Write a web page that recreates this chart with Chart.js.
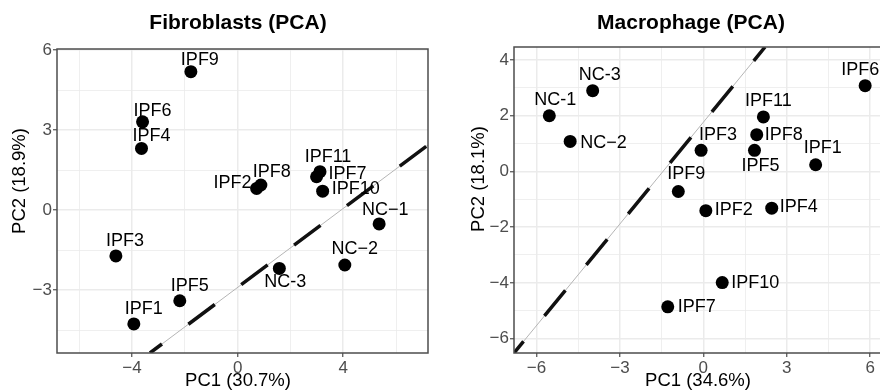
<!DOCTYPE html>
<html>
<head>
<meta charset="utf-8">
<script src="https://cdn.jsdelivr.net/npm/chart.js@4.4.1/dist/chart.umd.min.js"></script>
<style>
  html, body { margin: 0; padding: 0; background: #fff; }
  body { width: 880px; height: 391px; overflow: hidden; position: relative; }
  canvas { position: absolute; top: 0; }
  #fibro { left: 0; }
  #macro { left: 440px; }
</style>
</head>
<body>
<canvas id="fibro" width="440" height="391"></canvas>
<canvas id="macro" width="458" height="391"></canvas>
<script>
// Fibroblasts PCA
const fibroNames = ['IPF1', 'IPF2', 'IPF3', 'IPF4', 'IPF5', 'IPF6', 'IPF7', 'IPF8', 'IPF9', 'IPF10', 'IPF11', 'NC\u22121', 'NC\u22122', 'NC-3'];
const fibroPC1 = [-3.93, 0.72, -4.61, -3.64, -2.19, -3.6, 2.99, 0.88, -1.77, 3.22, 3.12, 5.36, 4.06, 1.58];
const fibroPC2 = [-4.27, 0.81, -1.72, 2.31, -3.4, 3.31, 1.25, 0.94, 5.19, 0.71, 1.44, -0.52, -2.06, -2.19];
const fibroLineX = [-3.32, 7.21];
const fibroLineY = [-5.36, 2.44];
const fibroRangeX = [-6.84, 7.21];
const fibroRangeY = [-5.36, 6.04];

// Macrophage PCA
const macroNames = ['IPF1', 'IPF2', 'IPF3', 'IPF4', 'IPF5', 'IPF6', 'IPF7', 'IPF8', 'IPF9', 'IPF10', 'IPF11', 'NC-1', 'NC\u22122', 'NC-3'];
const macroPC1 = [4.04, 0.09, -0.08, 2.46, 1.84, 5.82, -1.28, 1.92, -0.9, 0.68, 2.16, -5.54, -4.79, -3.98];
const macroPC2 = [0.24, -1.41, 0.76, -1.32, 0.76, 3.08, -4.86, 1.32, -0.72, -3.99, 1.96, 2.0, 1.08, 2.9];
const macroLineX = [-6.81, 2.22];
const macroLineY = [-6.52, 4.47];
const macroRangeX = [-6.81, 6.57];
const macroRangeY = [-6.52, 4.47];

// where each point label sits: [align, dx, dy]
const fibroLabelPos = {
  'IPF9': ['c', 9, -12], 'IPF6': ['c', 10, -11], 'IPF4': ['c', 10, -12],
  'IPF8': ['c', 11, -13], 'IPF2': ['r', -5, -5], 'IPF11': ['c', 8, -15],
  'IPF7': ['l', 12, -3], 'IPF10': ['l', 9, -2], 'NC\u22121': ['c', 6, -14],
  'IPF3': ['c', 9, -15], 'NC\u22122': ['c', 10, -16], 'NC-3': ['c', 6, 14],
  'IPF5': ['c', 10, -15], 'IPF1': ['c', 10, -15]
};
const macroLabelPos = {
  'IPF6': ['c', -5, -16], 'NC-3': ['c', 7, -16], 'NC-1': ['c', 6, -16],
  'IPF11': ['c', 5, -16], 'NC\u22122': ['l', 10, 2], 'IPF8': ['l', 8, 0],
  'IPF3': ['c', 17, -15], 'IPF5': ['c', 6, 16], 'IPF1': ['c', 7, -17],
  'IPF9': ['c', 8, -17], 'IPF2': ['l', 9, -1], 'IPF4': ['l', 8, -1],
  'IPF10': ['l', 9, 0], 'IPF7': ['l', 10, 0]
};

const FONT = "'Liberation Sans', Arial, sans-serif";

function isMajor(v, major) {
  const r = Math.round(v);
  return Math.abs(v - r) < 1e-6 && r % major === 0;
}

function axis(range, step, major, fitSize, isY) {
  return {
    type: 'linear',
    min: range[0],
    max: range[1],
    border: { display: false },
    grid: {
      color: '#ebebeb',
      lineWidth: (c) => isMajor(c.tick.value, major) ? 1.5 : 0.8,
      tickLength: 4,
      tickWidth: 1.2,
      tickColor: (c) => isMajor(c.tick.value, major) ? '#4d4d4d' : 'rgba(0,0,0,0)'
    },
    ticks: {
      stepSize: step,
      includeBounds: false,
      autoSkip: false,
      maxRotation: 0,
      padding: 1,
      color: '#4d4d4d',
      font: { family: FONT, size: 17 },
      callback: (v) => {
        if (!isMajor(v, major)) return '';
        const r = Math.round(v);
        return r < 0 ? '\u2212' + (-r) : String(r);
      }
    },
    afterFit: (s) => {
      if (isY) s.width = fitSize; else s.height = fitSize;
    }
  };
}

const panelDecor = {
  id: 'panelDecor',
  afterDatasetsDraw(chart, args, opts) {
    const ctx = chart.ctx;
    const meta = chart.getDatasetMeta(0);
    ctx.save();
    ctx.fillStyle = '#000';
    ctx.font = '18px ' + FONT;
    ctx.textBaseline = 'middle';
    meta.data.forEach((pt, i) => {
      const name = opts.names[i];
      const p = opts.labelPos[name] || ['c', 0, -15];
      ctx.textAlign = p[0] === 'l' ? 'left' : (p[0] === 'r' ? 'right' : 'center');
      ctx.fillText(name, pt.x + p[1], pt.y + p[2]);
    });
    ctx.restore();
  },
  afterDraw(chart, args, opts) {
    const ctx = chart.ctx;
    const a = chart.chartArea;
    ctx.save();
    ctx.strokeStyle = '#4d4d4d';
    ctx.lineWidth = 1.5;
    ctx.strokeRect(a.left, a.top, a.right - a.left, a.bottom - a.top);

    ctx.fillStyle = '#000';
    ctx.textAlign = 'center';
    ctx.textBaseline = 'middle';
    ctx.font = 'bold 21px ' + FONT;
    ctx.fillText(opts.title, opts.titleX, 23);

    ctx.font = '18.5px ' + FONT;
    ctx.fillText(opts.xTitle, opts.xTitleX, 381);

    ctx.translate(opts.yTitleX, opts.yTitleY);
    ctx.rotate(-Math.PI / 2);
    ctx.fillText(opts.yTitle, 0, 0);
    ctx.restore();
  }
};

function makeChart(id, cfg) {
  const points = cfg.pc1.map((x, i) => ({ x: x, y: cfg.pc2[i] }));
  const line = cfg.lineX.map((x, i) => ({ x: x, y: cfg.lineY[i] }));
  return new Chart(document.getElementById(id), {
    type: 'scatter',
    data: {
      datasets: [
        {
          data: points,
          backgroundColor: '#000',
          borderWidth: 0,
          pointRadius: 6.5,
          order: 0
        },
        {
          type: 'line',
          data: line,
          borderColor: '#111',
          borderWidth: 3.5,
          borderDash: [33, 33],
          borderDashOffset: 18,
          borderCapStyle: 'butt',
          pointRadius: 0,
          clip: 0,
          order: 1
        },
        {
          type: 'line',
          data: line,
          borderColor: '#b5b5b5',
          borderWidth: 1,
          pointRadius: 0,
          clip: 0,
          order: 2
        }
      ]
    },
    options: {
      responsive: false,
      animation: false,
      events: [],
      layout: { padding: { left: 0, right: 12, top: cfg.top, bottom: 0 } },
      scales: {
        x: axis(cfg.rangeX, cfg.stepX, cfg.majorX, 38, false),
        y: axis(cfg.rangeY, cfg.stepY, cfg.majorY, cfg.yWidth, true)
      },
      plugins: {
        legend: { display: false },
        tooltip: { enabled: false },
        panelDecor: {
          names: cfg.names,
          labelPos: cfg.labelPos,
          title: cfg.title,
          titleX: cfg.titleX,
          xTitle: cfg.xTitle,
          xTitleX: cfg.xTitleX,
          yTitle: cfg.yTitle,
          yTitleX: cfg.yTitleX,
          yTitleY: cfg.yTitleY
        }
      }
    },
    plugins: [panelDecor]
  });
}

makeChart('fibro', {
  names: fibroNames, pc1: fibroPC1, pc2: fibroPC2,
  lineX: fibroLineX, lineY: fibroLineY,
  rangeX: fibroRangeX, rangeY: fibroRangeY,
  stepX: 2, majorX: 4, stepY: 1.5, majorY: 3,
  top: 49, yWidth: 57,
  labelPos: fibroLabelPos,
  title: 'Fibroblasts (PCA)', titleX: 238,
  xTitle: 'PC1 (30.7%)', xTitleX: 238,
  yTitle: 'PC2 (18.9%)', yTitleX: 20, yTitleY: 181
});

makeChart('macro', {
  names: macroNames, pc1: macroPC1, pc2: macroPC2,
  lineX: macroLineX, lineY: macroLineY,
  rangeX: macroRangeX, rangeY: macroRangeY,
  stepX: 1.5, majorX: 3, stepY: 1, majorY: 2,
  top: 47, yWidth: 74,
  labelPos: macroLabelPos,
  title: 'Macrophage (PCA)', titleX: 251,
  xTitle: 'PC1 (34.6%)', xTitleX: 258,
  yTitle: 'PC2 (18.1%)', yTitleX: 39, yTitleY: 179
});
</script>
</body>
</html>
